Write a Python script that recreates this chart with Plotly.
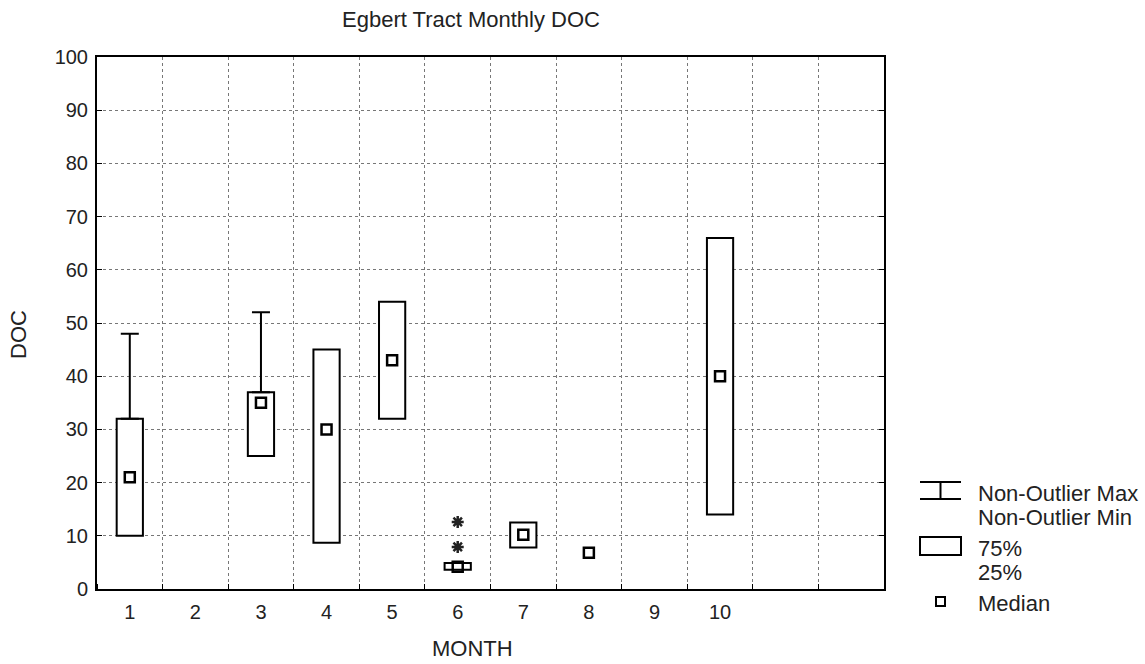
import plotly.graph_objects as go

# ---- data ----
months = [1, 3, 4, 5, 6, 7, 8, 10]
q1 = [10, 25, 8.7, 32, 3.6, 7.8, None, 14]
q3 = [32, 37, 45, 54, 4.9, 12.5, None, 66]
medians = [21, 35, 30, 43, 4.2, 10.2, 6.8, 40]
whisker_max = [48, 52, None, None, None, None, None, None]
outlier_months = [6, 6]
outlier_values = [12.6, 7.9]
tick_months = [1, 2, 3, 4, 5, 6, 7, 8, 9, 10]
tick_labels = [str(m) for m in tick_months]
y_ticks = list(range(0, 101, 10))

# ---- layout geometry (pixels) ----
W, H = 1145, 664
L, R, T, B = 97, 884, 57, 589
FONT = "Arial, Liberation Sans, sans-serif"
TXT = "#222222"
TS = 22  # annotation text size


def px(x):
    return (x - L) / (R - L)


def py(y):
    return (B - y) / (B - T)


fig = go.Figure()

# boxes (25%-75%)
box_x, box_base, box_h = [], [], []
for m, a, b in zip(months, q1, q3):
    if a is None or b is None:
        continue
    box_x.append(m)
    box_base.append(a)
    box_h.append(b - a)
fig.add_trace(go.Bar(
    x=box_x, y=box_h, base=box_base, width=0.4,
    marker=dict(color="white", line=dict(color="black", width=2)),
    showlegend=False, hoverinfo="skip"))

# upper whiskers
w_x, w_y, w_len = [], [], []
for m, b, hi in zip(months, q3, whisker_max):
    if hi is None:
        continue
    w_x.append(m)
    w_y.append(b)
    w_len.append(hi - b)
fig.add_trace(go.Scatter(
    x=w_x, y=w_y, mode="markers", marker=dict(size=1, color="rgba(0,0,0,0)"),
    error_y=dict(type="data", symmetric=False, array=w_len,
                 arrayminus=[0] * len(w_len), color="black", thickness=2, width=9),
    showlegend=False, hoverinfo="skip"))

# medians
fig.add_trace(go.Scatter(
    x=months, y=medians, mode="markers",
    marker=dict(symbol="square-open", size=10, color="black", line=dict(width=2.5)),
    showlegend=False))

# outliers
fig.add_trace(go.Scatter(
    x=outlier_months, y=outlier_values, mode="markers",
    marker=dict(symbol="asterisk-open", size=10, color="#222", line=dict(width=2.5, color="#222")),
    showlegend=False))

grid = dict(gridcolor="#777", griddash="dot", gridwidth=1)

fig.update_xaxes(
    range=[0.5, 12.5], tickvals=tick_months, ticktext=tick_labels, ticks="",
    showgrid=False, zeroline=False, ticklabelstandoff=4,
    showline=True, linecolor="black", linewidth=2, mirror=True,
    tickfont=dict(family=FONT, size=20, color=TXT),
    minor=dict(tick0=0.5, dtick=1, showgrid=True, ticks="inside", ticklen=5,
               tickcolor="black", **grid))
fig.update_yaxes(
    range=[0, 100], tickvals=y_ticks, ticks="inside", ticklen=5, tickcolor="black",
    showgrid=True, zeroline=False, ticklabelstandoff=3,
    showline=True, linecolor="black", linewidth=2, mirror="ticks",
    tickfont=dict(family=FONT, size=20, color=TXT), **grid)

shapes = []
ann = []
# title and axis titles
ann.append(dict(x=px(471), y=py(20), xref="paper", yref="paper", text="Egbert Tract Monthly DOC",
                xanchor="center", yanchor="middle",
                showarrow=False, font=dict(family=FONT, size=TS, color=TXT)))
ann.append(dict(x=px(472), y=py(648), xref="paper", yref="paper", text="MONTH",
                xanchor="center", yanchor="middle",
                showarrow=False, font=dict(family=FONT, size=TS, color=TXT)))
ann.append(dict(x=px(19), y=py(335), xref="paper", yref="paper", text="DOC", textangle=-90,
                xanchor="center", yanchor="middle",
                showarrow=False, font=dict(family=FONT, size=TS, color=TXT)))

# custom legend
lw = dict(color="black", width=2)
shapes += [
    dict(type="line", xref="paper", yref="paper", x0=px(920), x1=px(961), y0=py(482), y1=py(482), line=lw),
    dict(type="line", xref="paper", yref="paper", x0=px(920), x1=px(961), y0=py(499), y1=py(499), line=lw),
    dict(type="line", xref="paper", yref="paper", x0=px(940.5), x1=px(940.5), y0=py(482), y1=py(499), line=lw),
    dict(type="rect", xref="paper", yref="paper", x0=px(920), x1=px(961), y0=py(555), y1=py(537), line=lw),
    dict(type="rect", xref="paper", yref="paper", x0=px(936), x1=px(945), y0=py(606), y1=py(597), line=lw),
]
for label, yc in [("Non-Outlier Max", 493), ("Non-Outlier Min", 517), ("75%", 548),
                  ("25%", 572), ("Median", 603)]:
    ann.append(dict(x=px(976), y=py(yc), xref="paper", yref="paper", text=label,
                    xanchor="left", yanchor="middle", showarrow=False,
                    font=dict(family=FONT, size=TS, color=TXT)))

fig.update_layout(
    width=W, height=H, margin=dict(l=L, r=W - R, t=T, b=H - B),
    plot_bgcolor="white", paper_bgcolor="white", barmode="overlay",
    shapes=shapes, annotations=ann, showlegend=False)

fig.write_html("out.html", config={"displayModeBar": False},
               post_script="document.body.style.margin='0px';")
